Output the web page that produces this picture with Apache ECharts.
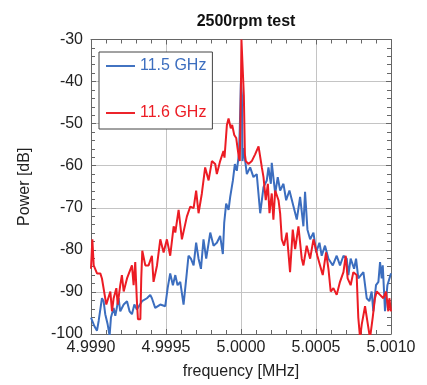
<!DOCTYPE html>
<html>
<head>
<meta charset="utf-8">
<script src="https://cdn.jsdelivr.net/npm/echarts@6/dist/echarts.min.js"></script>
<style>html,body{margin:0;padding:0;background:#fff}#c{width:427px;height:385px}</style>
</head>
<body>
<div id="c"></div>
<script>
var titleText = '2500rpm test';
var seriesNames = ['11.5 GHz', '11.6 GHz'];
var xTicks = [4.9990, 4.9995, 5.0000, 5.0005, 5.0010];
var yTicks = [-100, -90, -80, -70, -60, -50, -40, -30];

var freqBlue = [4.999000,4.999009,4.999022,4.999040,4.999051,4.999073,4.999084,4.999095,4.999111,4.999124,4.999133,4.999151,4.999162,4.999184,4.999195,4.999218,4.999240,4.999257,4.999273,4.999289,4.999306,4.999340,4.999373,4.999395,4.999406,4.999428,4.999462,4.999495,4.999511,4.999528,4.999546,4.999562,4.999577,4.999595,4.999617,4.999635,4.999650,4.999666,4.999684,4.999701,4.999717,4.999733,4.999750,4.999768,4.999795,4.999817,4.999839,4.999861,4.999879,4.999888,4.999901,4.999917,4.999928,4.999946,4.999959,4.999972,4.999986,4.999992,4.999999,5.000006,5.000010,5.000017,5.000028,5.000039,5.000061,5.000083,5.000105,5.000128,5.000150,5.000172,5.000183,5.000199,5.000205,5.000228,5.000245,5.000261,5.000283,5.000301,5.000323,5.000350,5.000372,5.000394,5.000416,5.000427,5.000443,5.000461,5.000483,5.000501,5.000523,5.000538,5.000560,5.000583,5.000612,5.000638,5.000660,5.000683,5.000705,5.000716,5.000731,5.000754,5.000767,5.000782,5.000816,5.000838,5.000856,5.000871,5.000882,5.000900,5.000916,5.000927,5.000938,5.000945,5.000960,5.000976,5.001000];
var powerBlue = [-96.1,-95.7,-98.1,-99.2,-96.9,-91.5,-92.2,-95.3,-97.7,-100.4,-96.1,-93.8,-95.7,-91.5,-94.6,-93.0,-92.2,-94.6,-95.3,-93.0,-94.2,-92.2,-91.5,-90.7,-91.5,-93.8,-93.0,-93.4,-89.1,-85.6,-88.4,-86.0,-88.4,-87.6,-93.0,-86.8,-81.4,-82.1,-83.7,-78.3,-82.1,-84.5,-77.5,-82.1,-75.9,-79.0,-78.3,-76.7,-81.0,-73.6,-69.0,-70.5,-67.4,-63.5,-59.6,-61.2,-57.3,-51.1,-40.2,-43.3,-58.9,-55.8,-58.9,-62.0,-60.4,-62.7,-62.0,-71.3,-65.1,-63.5,-60.4,-64.3,-59.3,-66.6,-62.7,-65.9,-64.3,-68.2,-65.9,-69.7,-72.8,-67.4,-74.4,-66.2,-75.2,-77.5,-75.9,-80.6,-78.3,-81.4,-79.0,-82.1,-83.7,-81.4,-83.7,-81.4,-82.1,-86.0,-82.1,-84.5,-82.1,-86.8,-85.3,-91.5,-92.2,-89.9,-94.6,-88.4,-87.6,-82.9,-86.8,-83.7,-94.6,-88.4,-85.6];

var freqRed = [4.999000,4.999009,4.999018,4.999040,4.999062,4.999073,4.999102,4.999129,4.999140,4.999151,4.999169,4.999178,4.999195,4.999206,4.999218,4.999240,4.999273,4.999284,4.999295,4.999306,4.999313,4.999329,4.999335,4.999342,4.999362,4.999384,4.999406,4.999417,4.999440,4.999462,4.999484,4.999506,4.999528,4.999551,4.999562,4.999584,4.999606,4.999639,4.999662,4.999684,4.999701,4.999717,4.999739,4.999761,4.999784,4.999806,4.999828,4.999839,4.999861,4.999883,4.999890,4.999906,4.999917,4.999932,4.999941,4.999955,4.999968,4.999977,4.999986,4.999992,4.999999,5.000003,5.000014,5.000019,5.000026,5.000032,5.000050,5.000072,5.000094,5.000117,5.000128,5.000139,5.000150,5.000165,5.000179,5.000190,5.000205,5.000216,5.000228,5.000250,5.000261,5.000272,5.000287,5.000305,5.000316,5.000327,5.000345,5.000361,5.000383,5.000394,5.000405,5.000416,5.000438,5.000461,5.000483,5.000494,5.000509,5.000527,5.000545,5.000567,5.000583,5.000598,5.000616,5.000638,5.000660,5.000683,5.000698,5.000711,5.000731,5.000749,5.000771,5.000782,5.000794,5.000805,5.000827,5.000842,5.000860,5.000878,5.000893,5.000905,5.000927,5.000949,5.000967,5.000982,5.000989,5.001000];
var powerRed = [-84.5,-77.5,-83.7,-85.6,-85.6,-86.8,-93.0,-89.9,-94.6,-91.5,-89.1,-93.0,-88.4,-86.0,-89.9,-86.8,-83.7,-88.4,-82.9,-92.2,-96.5,-96.5,-86.8,-80.2,-83.7,-83.7,-81.4,-87.6,-83.7,-77.5,-80.6,-77.5,-81.4,-74.4,-75.9,-70.5,-77.5,-72.1,-69.7,-70.1,-65.9,-71.3,-66.6,-60.4,-63.5,-58.9,-59.6,-62.0,-58.9,-56.5,-58.1,-50.3,-48.8,-51.1,-50.3,-52.7,-53.4,-55.8,-58.1,-58.9,-43.3,-30.0,-30.0,-43.3,-57.3,-58.9,-59.6,-58.9,-57.3,-55.4,-55.8,-60.4,-62.7,-68.2,-64.3,-71.3,-66.6,-72.8,-65.9,-68.2,-71.3,-77.5,-79.0,-75.9,-80.6,-85.3,-75.2,-79.8,-74.4,-78.3,-82.1,-83.7,-79.0,-82.1,-77.5,-79.0,-81.4,-83.7,-86.0,-80.6,-84.5,-89.9,-89.1,-90.7,-87.6,-85.3,-81.4,-86.8,-88.4,-85.3,-86.0,-96.1,-101,-97.7,-93.4,-96.9,-101,-96.1,-91.5,-89.9,-90.7,-91.5,-89.9,-94.6,-91.5,-94.6];

var colors = ['#3c6ebf', '#ec1c24'];
function pairs(xs, ys) { return xs.map(function (x, i) { return [x, ys[i]]; }); }

var font = '"Liberation Sans", Arial, sans-serif';
var xMin = xTicks[0], xMax = xTicks[xTicks.length - 1], xInt = 0.0005;
var yMin = yTicks[0], yMax = yTicks[yTicks.length - 1], yInt = 10;

function mkX(pos, showLabel) {
  return {
    type: 'value', position: pos, min: xMin, max: xMax, interval: xInt,
    axisLine: { show: true, onZero: false, lineStyle: { color: '#666', width: 1 } },
    axisTick: { show: true, inside: true, length: 5, lineStyle: { color: '#666' } },
    minorTick: { show: true, splitNumber: 5, length: 4, lineStyle: { color: '#666' } },
    splitLine: { show: showLabel, lineStyle: { color: '#c4c4c4', width: 1 } },
    axisLabel: { show: showLabel, fontSize: 16, fontFamily: font, color: '#222', margin: 6,
      formatter: function (v) { return v.toFixed(4); } },
    name: showLabel ? 'frequency [MHz]' : '', nameLocation: 'middle', nameGap: 30,
    nameTextStyle: { fontSize: 16, fontFamily: font, color: '#222' }
  };
}
function mkY(pos, showLabel) {
  return {
    type: 'value', position: pos, min: yMin, max: yMax, interval: yInt,
    axisLine: { show: true, onZero: false, lineStyle: { color: '#666', width: 1 } },
    axisTick: { show: true, inside: true, length: 5, lineStyle: { color: '#666' } },
    minorTick: { show: true, splitNumber: 5, length: 4, lineStyle: { color: '#666' } },
    splitLine: { show: showLabel, lineStyle: { color: '#c4c4c4', width: 1 } },
    axisLabel: { show: showLabel, fontSize: 16, fontFamily: font, color: '#222', margin: 8 },
    name: showLabel ? 'Power [dB]' : '', nameLocation: 'middle', nameGap: 58,
    nameTextStyle: { fontSize: 16, fontFamily: font, color: '#222' }
  };
}

var chart = echarts.init(document.getElementById('c'), null, { renderer: 'canvas' });
chart.setOption({
  animation: false,
  title: { text: titleText, left: 241, textAlign: 'center', top: 9,
    textStyle: { fontSize: 16, fontWeight: 'bold', fontFamily: font, color: '#111' } },
  grid: { left: 91, right: 36, top: 39.5, bottom: 45 },
  legend: {
    left: 99, top: 52, orient: 'vertical', itemGap: 31, itemWidth: 29, itemHeight: 14,
    padding: [6, 6, 8, 7], borderColor: '#444', borderWidth: 1, backgroundColor: '#fff',
    textStyle: { fontSize: 16, fontFamily: font },
    data: [
      { name: seriesNames[0], icon: 'path://M0,0 L30,0 L30,2 L0,2 Z', textStyle: { color: colors[0] } },
      { name: seriesNames[1], icon: 'path://M0,0 L30,0 L30,2 L0,2 Z', textStyle: { color: colors[1] } }
    ]
  },
  xAxis: [mkX('bottom', true), mkX('top', false)],
  yAxis: [mkY('left', true), mkY('right', false)],
  series: [
    { name: seriesNames[0], type: 'line', data: pairs(freqBlue, powerBlue), symbol: 'none',
      clip: true, color: colors[0], lineStyle: { width: 2, color: colors[0] } },
    { name: seriesNames[1], type: 'line', data: pairs(freqRed, powerRed), symbol: 'none',
      clip: true, color: colors[1], lineStyle: { width: 2, color: colors[1] } }
  ]
});
</script>
</body>
</html>
